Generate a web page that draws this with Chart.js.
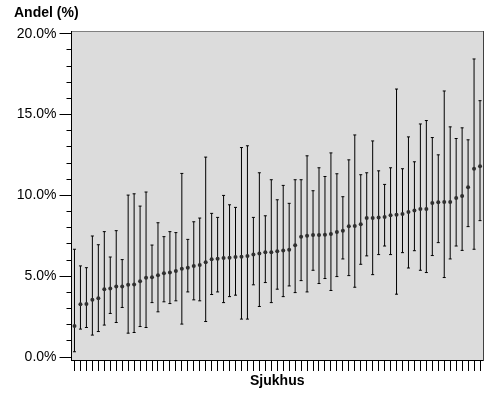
<!DOCTYPE html>
<html>
<head>
<meta charset="utf-8">
<script src="https://cdn.jsdelivr.net/npm/chart.js@4/dist/chart.umd.min.js"></script>
<style>
  html, body { margin: 0; padding: 0; background: #ffffff; }
  #wrap { width: 488px; height: 397px; }
</style>
</head>
<body>
<div id="wrap"><canvas id="c" width="488" height="397"></canvas></div>
<script>
// ---- data ----
const HOSPITALS = ['1','2','3','4','5','6','7','8','9','10','11','12','13','14','15','16','17','18','19','20',
  '21','22','23','24','25','26','27','28','29','30','31','32','33','34','35','36','37','38','39','40',
  '41','42','43','44','45','46','47','48','49','50','51','52','53','54','55','56','57','58','59','60',
  '61','62','63','64','65','66','67','68','69'];

const ANDEL = [1.93, 3.27, 3.29, 3.54, 3.64, 4.20, 4.24, 4.36, 4.36, 4.47, 4.49, 4.69, 4.90, 4.94, 5.06, 5.19, 5.23, 5.33, 5.47, 5.53, 5.64, 5.70, 5.86,
  6.05, 6.09, 6.13, 6.15, 6.19, 6.21, 6.26, 6.34, 6.40, 6.48, 6.48, 6.54, 6.60, 6.64, 6.91, 7.45, 7.51, 7.55, 7.55, 7.57, 7.61, 7.74, 7.82,
  8.09, 8.11, 8.21, 8.60, 8.60, 8.64, 8.66, 8.77, 8.81, 8.85, 8.97, 9.07, 9.16, 9.16, 9.53, 9.57, 9.59, 9.59, 9.84, 9.96, 10.51, 11.65, 11.81];

const UPPER = [6.67, 5.64, 5.53, 7.49, 6.95, 7.76, 6.19, 7.82, 6.03, 10.02, 10.10, 9.34, 10.21, 6.93, 8.31, 7.45, 7.76, 7.70, 11.36, 7.28, 8.37, 8.60, 12.37,
  8.89, 8.64, 10.00, 9.42, 9.26, 12.96, 13.07, 8.64, 11.40, 8.74, 10.97, 9.73, 10.62, 9.51, 10.97, 10.97, 12.45, 10.29, 11.71, 11.17, 12.63, 11.34, 9.92,
  12.20, 13.74, 11.28, 11.40, 13.37, 11.52, 10.68, 11.71, 16.58, 11.65, 13.62, 12.08, 14.42, 14.63, 13.58, 12.51, 16.46, 14.24, 13.52, 14.18, 13.44, 18.44, 15.86];

const LOWER = [0.33, 1.73, 1.83, 1.36, 1.58, 1.98, 2.70, 2.14, 3.07, 1.48, 1.52, 1.89, 1.83, 3.37, 2.80, 3.42, 3.31, 3.48, 2.04, 4.03, 3.54, 3.48, 2.20,
  3.87, 4.03, 3.37, 3.74, 3.83, 2.35, 2.35, 4.47, 3.13, 4.61, 3.37, 4.20, 3.74, 4.40, 3.99, 4.73, 4.03, 5.37, 4.55, 4.86, 4.12, 4.98, 6.07,
  5.04, 4.32, 5.74, 6.26, 5.10, 6.34, 6.87, 6.34, 3.89, 6.46, 5.51, 6.58, 5.37, 5.23, 6.28, 7.08, 4.92, 6.07, 6.87, 6.60, 8.07, 6.67, 8.44];

const Y_MAJOR_TICKS = [0, 5, 10, 15, 20];
const Y_MINOR_TICKS = [0, 1, 2, 3, 4, 5, 6, 7, 8, 9, 10, 11, 12, 13, 14, 15, 16, 17, 18, 19, 20];

// ---- chart ----
const FONT = "'Liberation Sans', Arial, sans-serif";
const Y_MIN = -0.18, Y_MAX = 20.12;

const plotBackground = {
  id: 'plotBackground',
  beforeDraw(chart) {
    const a = chart.chartArea, ctx = chart.ctx;
    ctx.save();
    ctx.fillStyle = '#dcdcdc';
    ctx.fillRect(a.left, a.top, a.right - a.left, a.bottom - a.top);
    ctx.restore();
  }
};

new Chart(document.getElementById('c'), {
  data: {
    labels: HOSPITALS,
    datasets: [
      {
        type: 'bar',
        data: HOSPITALS.map((_, i) => [LOWER[i], UPPER[i]]),
        backgroundColor: '#000000',
        borderWidth: 0,
        barThickness: 1,
        inflateAmount: 0,
        order: 4
      },
      {
        type: 'line',
        data: UPPER,
        showLine: false,
        pointStyle: 'line',
        pointRadius: 1.5,
        pointBorderWidth: 1,
        pointBorderColor: '#000000',
        order: 3
      },
      {
        type: 'line',
        data: LOWER,
        showLine: false,
        pointStyle: 'line',
        pointRadius: 1.5,
        pointBorderWidth: 1,
        pointBorderColor: '#000000',
        order: 2
      },
      {
        type: 'line',
        data: ANDEL,
        showLine: false,
        pointStyle: 'circle',
        pointRadius: 2,
        pointBorderWidth: 0,
        pointBackgroundColor: '#2f2f2f',
        order: 1
      }
    ]
  },
  options: {
    responsive: false,
    animation: false,
    events: [],
    layout: { padding: { left: 14, right: 2.5, top: 0, bottom: 0 } },
    plugins: {
      legend: { display: false },
      tooltip: { enabled: false },
      title: {
        display: true,
        text: 'Andel (%)',
        align: 'start',
        color: '#000000',
        font: { family: FONT, size: 14, weight: 'bold' },
        padding: { top: 5, bottom: 10 }
      }
    },
    scales: {
      x: {
        type: 'category',
        position: 'bottom',
        offset: true,
        grid: { offset: false, drawOnChartArea: false, tickLength: 11, tickColor: '#000000', tickWidth: 1 },
        border: { color: '#000000', width: 1 },
        ticks: { display: false, autoSkip: false },
        title: {
          display: true,
          text: 'Sjukhus',
          color: '#000000',
          font: { family: FONT, size: 14, weight: 'bold' },
          padding: { top: 0, bottom: 7 }
        },
        afterFit(s) { s.height = 37; }
      },
      xTop: {
        type: 'category',
        position: 'top',
        labels: HOSPITALS,
        grid: { display: false, drawTicks: false },
        border: { color: '#808080', width: 1 },
        ticks: { display: false },
        afterFit(s) { s.height = 0; }
      },
      y: {
        type: 'linear',
        position: 'left',
        weight: 10,
        min: Y_MIN,
        max: Y_MAX,
        afterBuildTicks(s) { s.ticks = Y_MAJOR_TICKS.map(v => ({ value: v })); },
        ticks: {
          color: '#000000',
          font: { family: FONT, size: 14 },
          padding: 3,
          callback: (v) => Number(v).toFixed(1) + '%'
        },
        grid: { drawOnChartArea: false, tickLength: 12, tickColor: '#000000', tickWidth: 1 },
        border: { color: '#000000', width: 1 },
        afterFit(s) { s.width = 57.5; }
      },
      yMinor: {
        type: 'linear',
        position: 'left',
        weight: 0,
        min: Y_MIN,
        max: Y_MAX,
        afterBuildTicks(s) { s.ticks = Y_MINOR_TICKS.map(v => ({ value: v })); },
        ticks: { display: false },
        grid: { drawOnChartArea: false, tickLength: 5, tickColor: '#000000', tickWidth: 1 },
        border: { display: false },
        afterFit(s) { s.width = 0; }
      },
      yRight: {
        type: 'linear',
        position: 'right',
        min: Y_MIN,
        max: Y_MAX,
        grid: { display: false, drawTicks: false },
        border: { color: '#404040', width: 1 },
        ticks: { display: false },
        afterFit(s) { s.width = 0; }
      }
    }
  },
  plugins: [plotBackground]
});
</script>
</body>
</html>
